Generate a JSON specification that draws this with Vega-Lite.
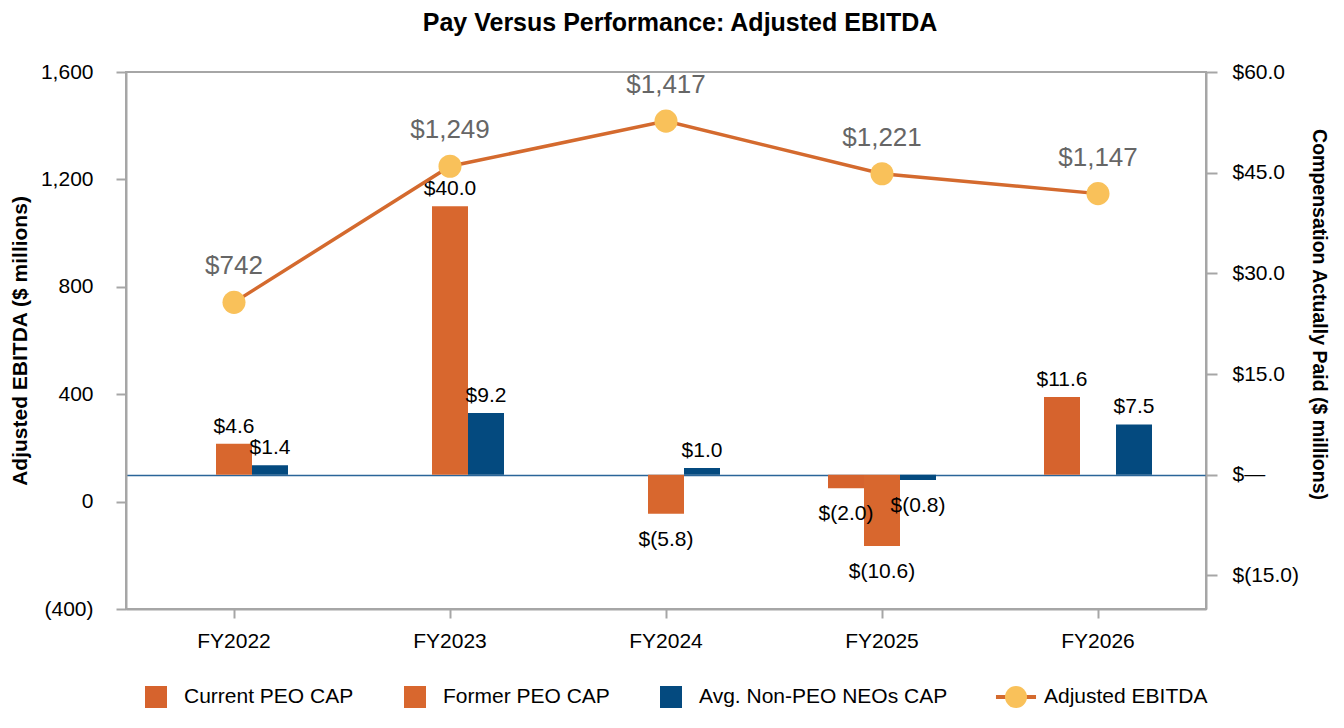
{
  "$schema": "https://vega.github.io/schema/vega-lite/v6.json",
  "description": "Pay Versus Performance: Adjusted EBITDA",
  "width": 1080,
  "height": 537,
  "autosize": {"type": "none"},
  "padding": {"left": 126, "top": 72, "right": 138, "bottom": 119},
  "config": {
    "font": "Liberation Sans, Arial, sans-serif",
    "view": {"stroke": "#a6a6a6", "strokeWidth": 2},
    "axis": {
      "labelFontSize": 21,
      "labelColor": "#000000",
      "domainColor": "#a6a6a6",
      "domainWidth": 2,
      "tickColor": "#a6a6a6",
      "tickWidth": 2,
      "titleColor": "#000000",
      "titleFontWeight": "bold",
      "grid": false
    },
    "axisX": {"tickSize": 9, "labelPadding": 12, "labelAngle": 0, "title": null},
    "legend": {"padding": 0, "labelFontSize": 21, "labelColor": "#000000", "labelLimit": 400}
  },
  "title": {
    "text": "Pay Versus Performance: Adjusted EBITDA",
    "fontSize": 25,
    "fontWeight": "bold",
    "color": "#000000",
    "anchor": "middle",
    "offset": 25,
    "dx": 14
  },
  "layer": [
    {
      "data": {
        "values": [
          {"year": "FY2022", "series": "Former PEO CAP", "cap": 4.6, "label": "$4.6"},
          {"year": "FY2022", "series": "Avg. Non-PEO NEOs CAP", "cap": 1.4, "label": "$1.4"},
          {"year": "FY2023", "series": "Former PEO CAP", "cap": 40.0, "label": "$40.0"},
          {"year": "FY2023", "series": "Avg. Non-PEO NEOs CAP", "cap": 9.2, "label": "$9.2"},
          {"year": "FY2024", "series": "Former PEO CAP", "cap": -5.8, "label": "$(5.8)"},
          {"year": "FY2024", "series": "Avg. Non-PEO NEOs CAP", "cap": 1.0, "label": "$1.0"},
          {"year": "FY2025", "series": "Current PEO CAP", "cap": -2.0, "label": "$(2.0)"},
          {"year": "FY2025", "series": "Former PEO CAP", "cap": -10.6, "label": "$(10.6)"},
          {"year": "FY2025", "series": "Avg. Non-PEO NEOs CAP", "cap": -0.8, "label": "$(0.8)"},
          {"year": "FY2026", "series": "Current PEO CAP", "cap": 11.6, "label": "$11.6"},
          {"year": "FY2026", "series": "Avg. Non-PEO NEOs CAP", "cap": 7.5, "label": "$7.5"}
        ]
      },
      "encoding": {
        "x": {
          "field": "year",
          "type": "nominal",
          "scale": {"paddingInner": 0.5, "paddingOuter": 0.25}
        },
        "xOffset": {
          "field": "series",
          "scale": {
            "domain": ["Current PEO CAP", "Former PEO CAP", "Avg. Non-PEO NEOs CAP"],
            "paddingInner": 0,
            "paddingOuter": 0
          }
        },
        "y": {
          "field": "cap",
          "type": "quantitative",
          "scale": {"domain": [-20, 60], "nice": false, "zero": false},
          "axis": {
            "orient": "right",
            "title": "Compensation Actually Paid ($ millions)",
            "titleFontSize": 19.5,
            "titlePadding": 10,
            "titleY": 242,
            "values": [-15, 0, 15, 30, 45, 60],
            "tickSize": 11,
            "labelPadding": 15,
            "labelExpr": "datum.value === 0 ? '$—' : datum.value < 0 ? '$(' + format(-datum.value, '.1f') + ')' : '$' + format(datum.value, '.1f')",
            "grid": true,
            "gridWidth": 1.5,
            "gridColor": {"condition": {"test": "datum.value === 0", "value": "#2a6599"}, "value": "transparent"}
          }
        }
      },
      "layer": [
        {
          "mark": {"type": "bar"},
          "encoding": {
            "color": {
              "field": "series",
              "type": "nominal",
              "scale": {
                "domain": ["Current PEO CAP", "Former PEO CAP", "Avg. Non-PEO NEOs CAP"],
                "range": ["#d6632d", "#d8672e", "#044a7f"]
              },
              "legend": {
                "orient": "none",
                "direction": "horizontal",
                "legendX": 19,
                "legendY": 614,
                "title": null,
                "symbolType": "square",
                "symbolSize": 484,
                "symbolStrokeWidth": 0,
                "symbolOpacity": 1,
                "labelOffset": 17,
                "columnPadding": 50
              }
            }
          }
        },
        {
          "transform": [{"filter": "datum.cap >= 0"}],
          "mark": {"type": "text", "fontSize": 21, "color": "#000000", "baseline": "alphabetic", "dy": -11},
          "encoding": {"text": {"field": "label"}}
        },
        {
          "transform": [{"filter": "datum.cap < 0"}],
          "mark": {"type": "text", "fontSize": 21, "color": "#000000", "baseline": "alphabetic", "dy": 32},
          "encoding": {"text": {"field": "label"}}
        }
      ]
    },
    {
      "data": {
        "values": [
          {"year": "FY2022", "ebitda": 742, "metric": "Adjusted EBITDA"},
          {"year": "FY2023", "ebitda": 1249, "metric": "Adjusted EBITDA"},
          {"year": "FY2024", "ebitda": 1417, "metric": "Adjusted EBITDA"},
          {"year": "FY2025", "ebitda": 1221, "metric": "Adjusted EBITDA"},
          {"year": "FY2026", "ebitda": 1147, "metric": "Adjusted EBITDA"}
        ]
      },
      "encoding": {
        "x": {"field": "year", "type": "nominal"},
        "y": {
          "field": "ebitda",
          "type": "quantitative",
          "scale": {"domain": [-400, 1600], "nice": false},
          "axis": {
            "orient": "left",
            "title": "Adjusted EBITDA ($ millions)",
            "titleFontSize": 21,
            "titlePadding": 10,
            "values": [-400, 0, 400, 800, 1200, 1600],
            "tickSize": 10,
            "labelPadding": 23,
            "labelExpr": "datum.value < 0 ? '(' + format(-datum.value, ',') + ')' : format(datum.value, ',')"
          }
        }
      },
      "layer": [
        {
          "mark": {"type": "line", "strokeWidth": 3.5},
          "encoding": {
            "stroke": {
              "datum": "Adjusted EBITDA",
              "type": "nominal",
              "scale": {"domain": ["Adjusted EBITDA"], "range": ["#d46a2e"]},
              "legend": {
                "orient": "none",
                "legendX": 877,
                "legendY": 612,
                "title": null,
                "symbolType": "M-1.82,0H1.82",
                "symbolSize": 484,
                "symbolStrokeWidth": 4,
                "symbolFillColor": "transparent",
                "labelOffset": 15
              }
            }
          }
        },
        {
          "mark": {"type": "point", "filled": true, "fill": "#f9c15a", "size": 530, "opacity": 1, "strokeWidth": 0},
          "encoding": {
            "shape": {
              "field": "metric",
              "type": "nominal",
              "scale": {"range": ["circle"]},
              "legend": {
                "orient": "none",
                "legendX": 877,
                "legendY": 612,
                "title": null,
                "symbolSize": 484,
                "symbolStrokeWidth": 4,
                "symbolStrokeColor": "transparent",
                "symbolFillColor": "#f9c15a",
                "symbolOpacity": 1,
                "labelOpacity": 0,
                "labelOffset": 15
              }
            }
          }
        },
        {
          "mark": {"type": "text", "fontSize": 26, "color": "#666666", "baseline": "alphabetic", "dy": -28},
          "encoding": {"text": {"field": "ebitda", "type": "quantitative", "format": "$,.0f"}}
        }
      ]
    }
  ],
  "resolve": {"scale": {"y": "independent"}}
}
